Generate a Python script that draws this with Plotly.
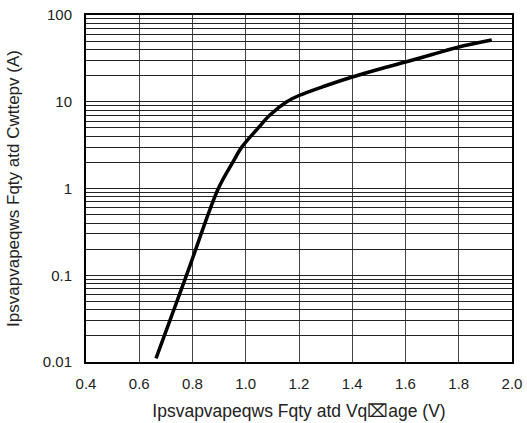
import plotly.graph_objects as go

voltage = [0.663, 0.78, 0.897, 0.951, 0.985, 1.047, 1.09, 1.154, 1.20, 1.30, 1.40, 1.50, 1.60, 1.70, 1.80, 1.924]
current = [0.011, 0.105, 1.0, 2.0, 3.0, 5.0, 7.0, 10.0, 11.8, 15.3, 19.3, 23.7, 28.7, 35.0, 42.8, 51.5]

decades = [0.01, 0.1, 1, 10]
y_tickvals = [d * m for d in decades for m in range(1, 10)] + [100]
y_ticktext = [("%g" % (d * m)) if m == 1 else "" for d in decades for m in range(1, 10)] + ["100"]

x_title = "Ipsvapvapeqws Fqty atd Vq\u2327age (V)"
y_title = "Ipsvapvapeqws Fqty atd Cwttepv (A)"

fam = "Liberation Sans, Arial, sans-serif"
txt = "#222"

fig = go.Figure()
fig.add_trace(go.Scatter(
    x=voltage, y=current, mode="lines",
    line=dict(color="black", width=3.5, shape="spline", smoothing=1.0),
    hoverinfo="skip", showlegend=False,
))

fig.update_layout(
    width=527, height=423,
    margin=dict(l=86, r=15, t=15, b=61),
    paper_bgcolor="white", plot_bgcolor="white",
    font=dict(family=fam, size=15, color=txt),
    hovermode=False,
    xaxis=dict(
        range=[0.4, 2.0], dtick=0.2, tick0=0.4, tickformat=".1f",
        showgrid=True, gridcolor="#444", gridwidth=1,
        showline=True, linecolor="black", linewidth=2, mirror=True,
        ticks="outside", ticklen=7, tickcolor="rgba(0,0,0,0)",
        zeroline=False, automargin=False, ticklabeloverflow="allow",
        title=dict(text=x_title, font=dict(size=17.5, family=fam, color=txt), standoff=14),
    ),
    yaxis=dict(
        type="log", range=[-2, 2],
        tickmode="array", tickvals=y_tickvals, ticktext=y_ticktext,
        showgrid=True, gridcolor="#222", gridwidth=1,
        showline=True, linecolor="black", linewidth=2, mirror=True,
        ticks="outside", ticklen=9, tickcolor="rgba(0,0,0,0)",
        zeroline=False, automargin=False, ticklabeloverflow="allow",
        title=dict(text=y_title, font=dict(size=17, family=fam, color=txt), standoff=19),
    ),
)

fig.write_html(
    "out.html",
    config={"displayModeBar": False, "staticPlot": True},
    post_script="document.body.style.margin='0';document.body.style.overflow='hidden';",
)
